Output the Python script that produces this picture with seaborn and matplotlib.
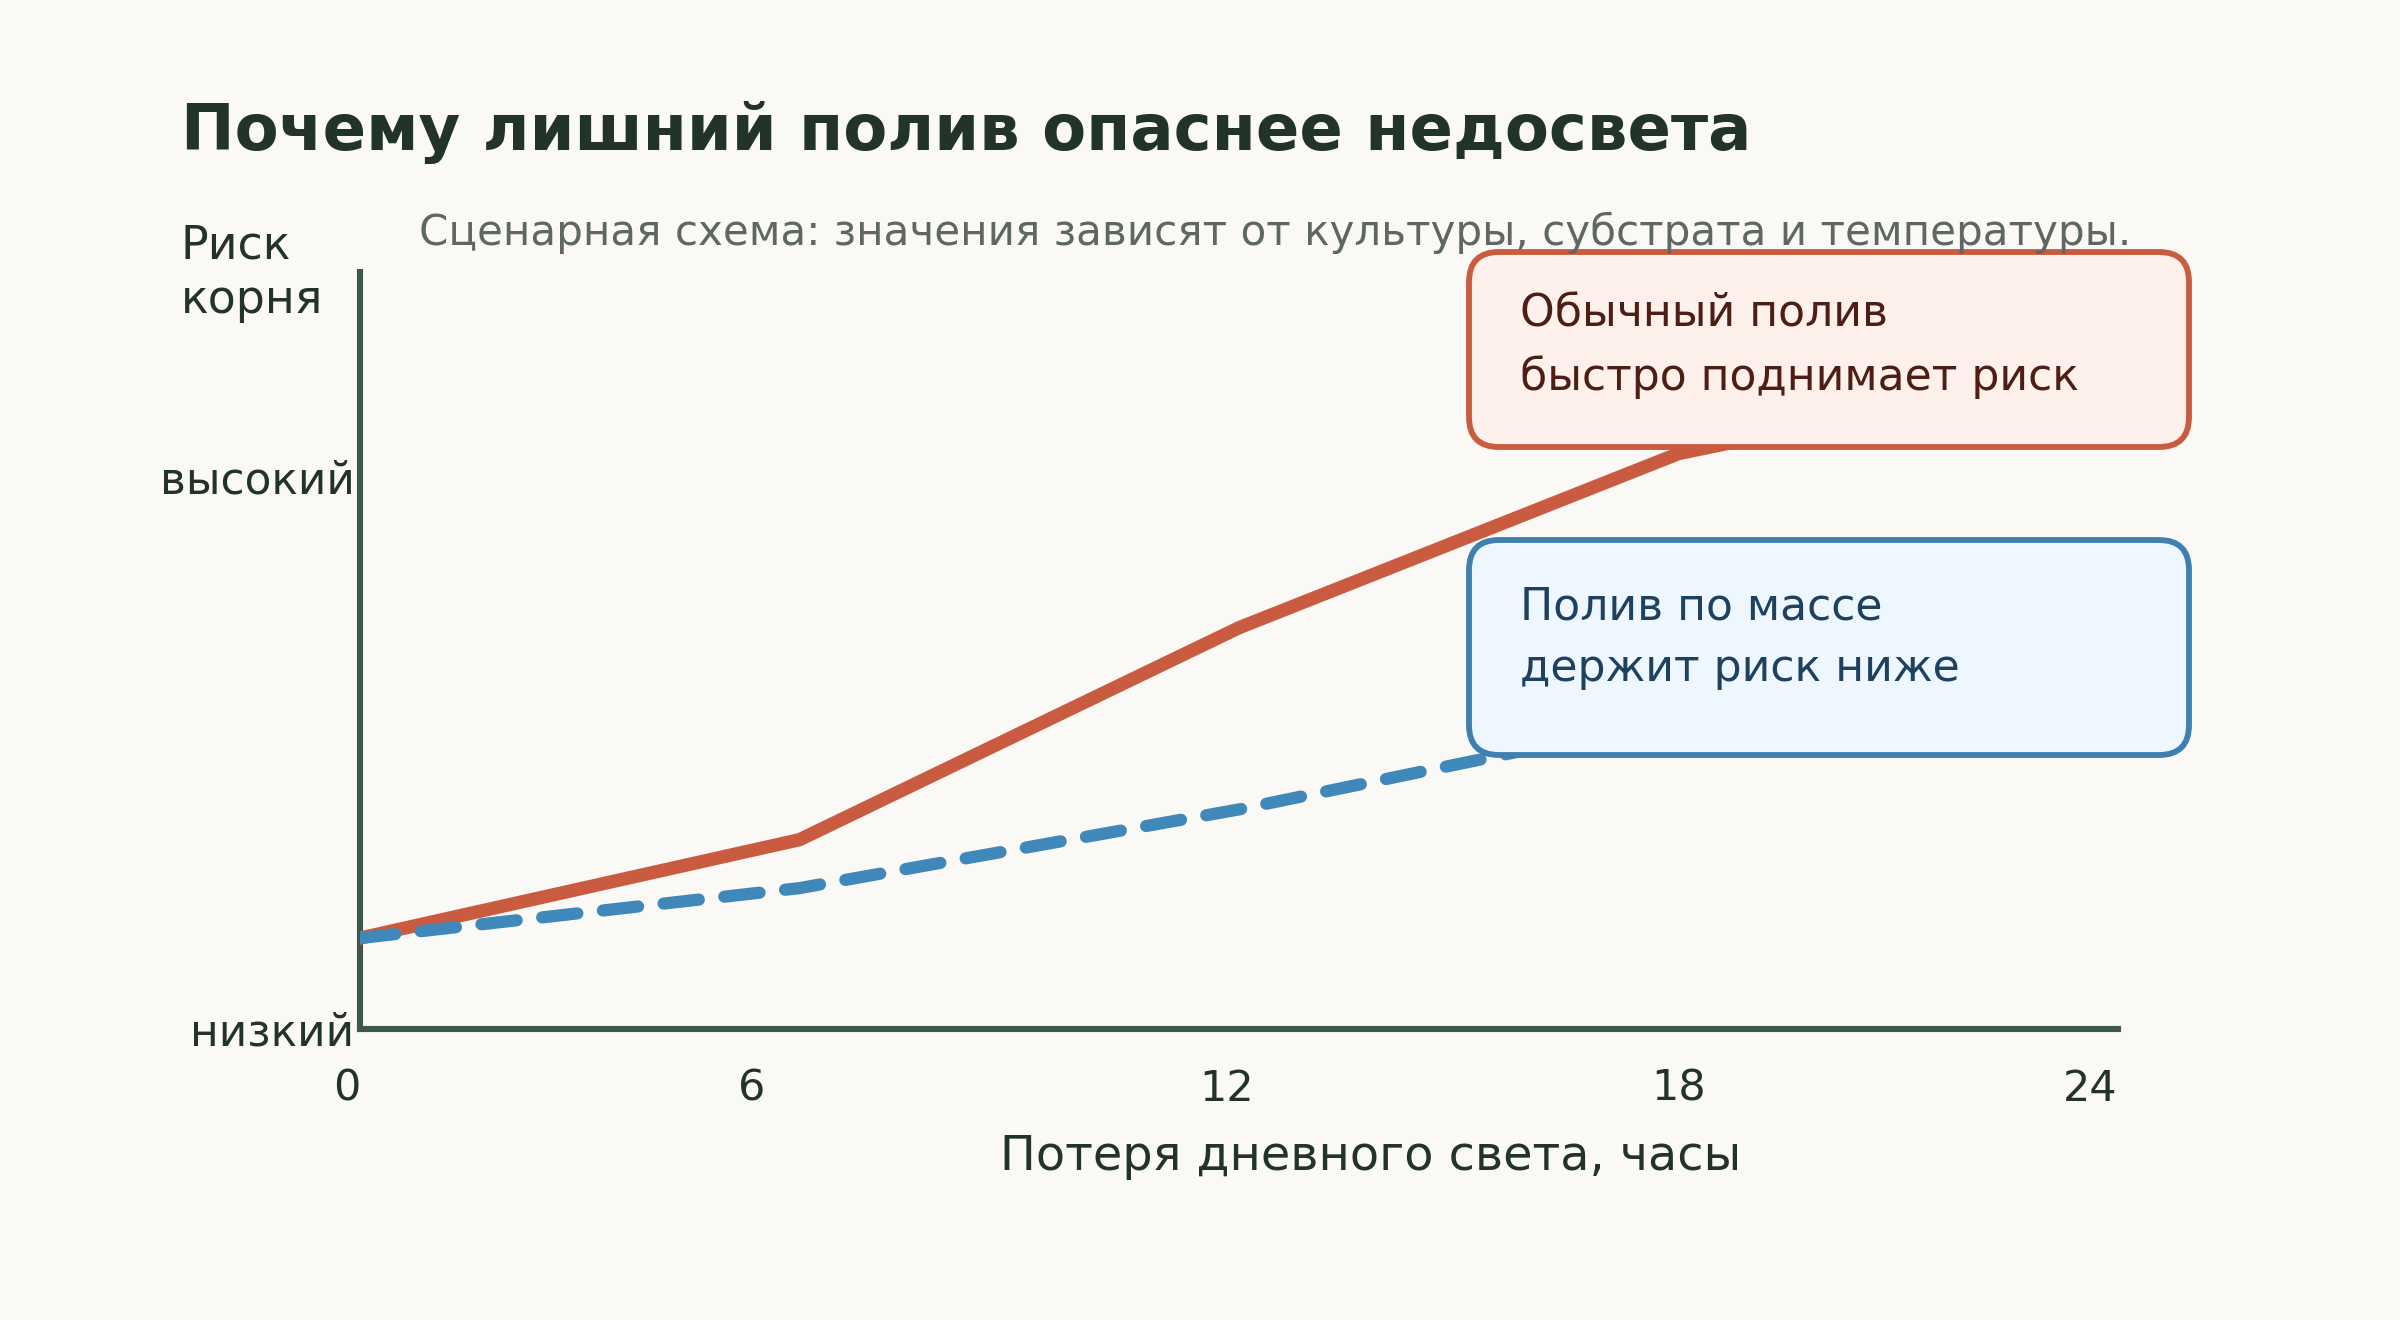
import matplotlib
matplotlib.use("Agg")
import matplotlib.pyplot as plt
from matplotlib.patches import FancyBboxPatch
from matplotlib.transforms import ScaledTranslation
import seaborn as sns

# data
hours = [0, 6, 12, 18, 24]
risk_usual = [12, 25, 53, 76, 88]
risk_by_weight = [12, 18.6, 29, 41, 53]
x_ticks = [0, 6, 12, 18, 24]
y_ticks = [0, 73]
y_tick_labels = ["низкий", "высокий"]

bg = "#FAF9F5"
ink = "#22332B"
axis_col = "#3E584B"
red = "#C95C40"
blue = "#3F88B9"

sns.set_theme(style="white")
plt.rcParams["font.family"] = ["DejaVu Sans"]

fig = plt.figure(figsize=(12, 6.6), dpi=200, facecolor=bg)
ax = fig.add_axes([0.15, 0.2205, 0.7325, 0.5735])
ax.set_facecolor(bg)

sns.lineplot(x=hours, y=risk_usual, ax=ax, color=red, linewidth=4.8,
             solid_capstyle="round", solid_joinstyle="round", zorder=3)
sns.lineplot(x=hours, y=risk_by_weight, ax=ax, color=blue, linewidth=4.4, zorder=4)
blue_line = ax.lines[-1]
blue_line.set_dashes([2.9, 2.1])
blue_line.set_dash_capstyle("round")

ax.set_xlim(0, 24)
ax.set_ylim(0, 100)
for side in ["top", "right"]:
    ax.spines[side].set_visible(False)
for side in ["left", "bottom"]:
    ax.spines[side].set_color(axis_col)
    ax.spines[side].set_linewidth(2.2)

ax.set_xticks(x_ticks)
ax.set_xticklabels([str(t) for t in x_ticks])
ax.set_yticks(y_ticks)
ax.set_yticklabels(y_tick_labels)
ax.tick_params(axis="x", length=0, pad=14, labelsize=15.5, labelcolor=ink)
ax.tick_params(axis="y", length=0, pad=2, labelsize=15.8, labelcolor=ink)
xl = ax.get_xticklabels()
xl[0].set_ha("right")
xl[-1].set_ha("right")
# the reference nudges the "6" and "12" labels a bit to the left
for lbl, dx in [(xl[1], -0.24), (xl[2], -0.06)]:
    lbl.set_transform(lbl.get_transform() + ScaledTranslation(dx, 0, fig.dpi_scale_trans))

ax.set_xlabel("Потеря дневного света, часы", fontsize=17.2, color=ink, va="center")
ax.xaxis.set_label_coords(0.575, -0.168)
ax.set_ylabel("")

fig.text(0.0754, 0.8864, "Почему лишний полив опаснее недосвета",
         fontsize=23.1, fontweight="bold", color=ink, va="baseline")
fig.text(0.1746, 0.8144, "Сценарная схема: значения зависят от культуры, субстрата и температуры.",
         fontsize=15.15, color="#5E6761", va="baseline")
fig.text(0.0754, 0.831, "Риск\nкорня", fontsize=16.5, color=ink, va="top", linespacing=1.28)

# callout boxes (inches, on top of the lines)
boxes = [
    (7.345, 4.365, 3.6, 0.975, "#FEF0EA", red, "Обычный полив\nбыстро поднимает риск", "#4D1E14", 0.7379),
    (7.345, 2.825, 3.6, 1.075, "#EEF7FF", "#3F80B0", "Полив по массе\nдержит риск ниже", "#1F4160", 0.517),
]
for x0, y0, w, h, fc, ec, txt, tc, ty in boxes:
    patch = FancyBboxPatch((x0, y0), w, h, boxstyle="round,pad=0,rounding_size=0.15",
                           transform=fig.dpi_scale_trans, facecolor=fc, edgecolor=ec,
                           linewidth=2.1, clip_on=False, zorder=6)
    ax.add_patch(patch)
    fig.text(0.6333, ty, txt, fontsize=15.9, color=tc, va="center", ha="left",
             linespacing=1.55, zorder=7)

fig.savefig("out.png", dpi=200, facecolor=bg)
